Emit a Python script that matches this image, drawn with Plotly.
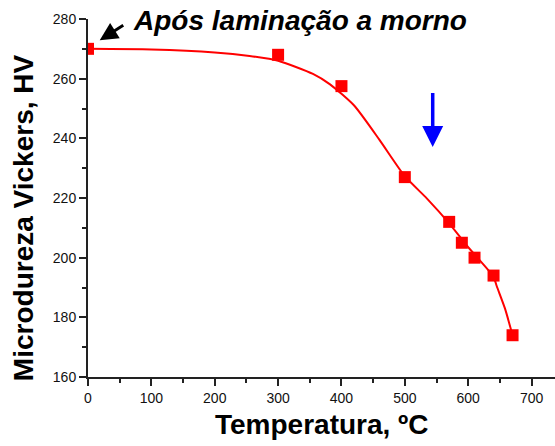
import plotly.graph_objects as go

# Measured data
temp_c = [0, 300, 400, 500, 570, 590, 610, 640, 670]
hardness_hv = [270, 268, 257.5, 227, 212, 205, 200, 194, 174]

# Smooth fit curve
fit_x = [0, 100, 200, 255, 300, 355, 382, 420, 460, 500, 535, 570, 600, 640, 645, 658, 670]
fit_y = [270, 269.8, 268.8, 267.6, 266, 261.6, 258.1, 251.0, 239.5, 227.3, 219.8, 211.5, 203.5, 193.6, 190.5, 183, 174]

x_ticks = [0, 100, 200, 300, 400, 500, 600, 700]
y_ticks = [160, 180, 200, 220, 240, 260, 280]

FONT = "Arial, Liberation Sans, sans-serif"

fig = go.Figure()
fig.add_trace(go.Scatter(x=fit_x, y=fit_y, mode="lines",
                         line=dict(color="#ff0000", width=2, shape="spline", smoothing=0.6),
                         hoverinfo="skip", showlegend=False))
fig.add_trace(go.Scatter(x=temp_c, y=hardness_hv, mode="markers",
                         marker=dict(symbol="square", size=12, color="#ff0000", line=dict(width=0)),
                         showlegend=False, cliponaxis=True))

axis_common = dict(showline=True, linecolor="#222", linewidth=2, ticks="outside", ticklen=7, tickwidth=1.5,
                   tickcolor="#222", showgrid=False, zeroline=False, mirror=False,
                   tickfont=dict(family=FONT, size=14, color="#111"))

fig.update_xaxes(range=[0, 737], tickvals=x_ticks, ticktext=[str(v) for v in x_ticks],
                 minor=dict(dtick=50, tick0=0, ticks="outside", ticklen=4, tickwidth=1.5, tickcolor="#222"),
                 **axis_common)
fig.update_yaxes(range=[160, 280], tickvals=y_ticks, ticktext=[str(v) for v in y_ticks],
                 minor=dict(dtick=10, tick0=160, ticks="outside", ticklen=4, tickwidth=1.5, tickcolor="#222"),
                 **axis_common)

# axis titles
fig.add_annotation(x=0.501, y=-0.134, xref="paper", yref="paper", text="<b>Temperatura, ºC</b>", showarrow=False,
                   font=dict(family=FONT, size=28, color="#000"), xanchor="center", yanchor="middle")
fig.add_annotation(x=-0.139, y=0.444, xref="paper", yref="paper", text="<b>Microdureza Vickers, HV</b>",
                   showarrow=False, textangle=-90,
                   font=dict(family=FONT, size=28, color="#000"), xanchor="center", yanchor="middle")

fig.add_annotation(x=0.454, y=0.995, xref="paper", yref="paper", text="<b><i>Após laminação a morno</i></b>",
                   showarrow=False, font=dict(family=FONT, size=28, color="#000"), xanchor="center", yanchor="middle")
# black arrow pointing to first point
fig.add_annotation(x=18.5, y=272.9, ax=58, ay=278.2, xref="x", yref="y", axref="x", ayref="y", text="",
                   showarrow=True, arrowhead=2, arrowsize=1.2, arrowwidth=3, arrowcolor="#000")
# blue arrow
fig.add_annotation(x=544, y=237.1, ax=544, ay=255.7, xref="x", yref="y", axref="x", ayref="y", text="",
                   showarrow=True, arrowhead=2, arrowsize=1.2, arrowwidth=3.5, arrowcolor="#0000ff")

fig.update_layout(width=555, height=446, margin=dict(l=88, r=0, t=19, b=69),
                  paper_bgcolor="white", plot_bgcolor="white", showlegend=False)

fig.write_html("out.html")
